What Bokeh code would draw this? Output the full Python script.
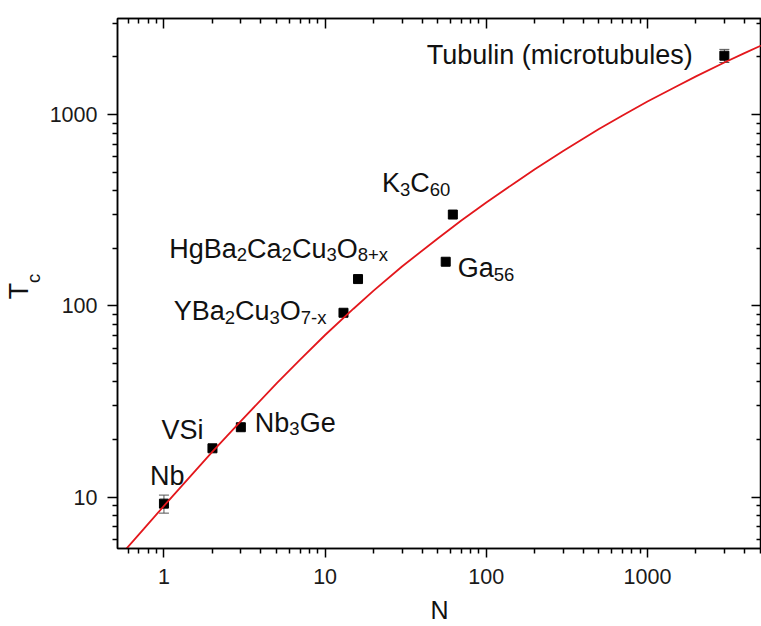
from bokeh.plotting import figure
from bokeh.models import (ColumnDataSource, FixedTicker, LogAxis, NumeralTickFormatter,
                          CustomJSTickFormatter, Whisker, TeeHead, Range1d)
from bokeh.embed import file_html
from bokeh.resources import INLINE
from bokeh.core.properties import value

# ---------------- data ----------------
materials = ["Nb", "VSi", "Nb3Ge", "YBa2Cu3O7-x", "HgBa2Ca2Cu3O8+x", "K3C60", "Ga56",
             "Tubulin (microtubules)"]
N_vals = [1, 2, 3, 13, 16, 62, 56, 3000]
Tc_vals = [9.25, 18, 23.2, 92, 138, 300, 170, 2030]
Tc_err = [1.0, 0, 0, 0, 0, 0, 0, 160]

# fitted curve
fit_N = [0.5, 0.75, 1, 1.5, 2, 3, 5, 7, 10, 15, 20, 30, 50, 70, 100, 150, 200, 300,
         500, 700, 1000, 1500, 2000, 3000, 4000, 5000, 6000]
fit_Tc = [4.63, 6.82, 9.0, 13.2, 17.3, 25.0, 39.3, 52.3, 70.4, 96.6, 120, 160.6, 225,
          279, 347, 439, 517, 644, 840, 989, 1170, 1398, 1583, 1870, 2095, 2280, 2430]

x_major = [1, 10, 100, 1000]
y_major = [10, 100, 1000]
x_title = "N"
y_title_main, y_title_sub = "T", "c"

# label text split into (piece, is_subscript)
label_parts = {
    "Nb": [("Nb", 0)],
    "VSi": [("VSi", 0)],
    "Nb3Ge": [("Nb", 0), ("3", 1), ("Ge", 0)],
    "YBa2Cu3O7-x": [("YBa", 0), ("2", 1), ("Cu", 0), ("3", 1), ("O", 0), ("7-x", 1)],
    "HgBa2Ca2Cu3O8+x": [("HgBa", 0), ("2", 1), ("Ca", 0), ("2", 1), ("Cu", 0), ("3", 1),
                        ("O", 0), ("8+x", 1)],
    "K3C60": [("K", 0), ("3", 1), ("C", 0), ("60", 1)],
    "Ga56": [("Ga", 0), ("56", 1)],
    "Tubulin (microtubules)": [("Tubulin (microtubules)", 0)],
}

# ---------------- style / layout ----------------
FONT = "Liberation Sans"
MAIN_FS = 27.0
SUB_FS = 18.5
SUB_DROP = 6.0
BASE_SHIFT = -8.5
NBSP = "\u00a0"
# (align, dx, dy) in pixels relative to the data point; dy = baseline, positive down
label_layout = {
    "Nb": ("left", -14, -19.5),
    "VSi": ("left", -51, -10),
    "Nb3Ge": ("left", 14, 4),
    "YBa2Cu3O7-x": ("right", -17, 7),
    "HgBa2Ca2Cu3O8+x": ("right", 30, -22),
    "K3C60": ("right", -2.5, -22.7),
    "Ga56": ("left", 12, 15),
    "Tubulin (microtubules)": ("right", -30.6, 7.8),
}

ADV = {'N': 722, 'b': 556, 'V': 667, 'S': 667, 'i': 222, 'G': 778, 'e': 556, 'Y': 667,
       'B': 667, 'a': 556, 'C': 722, 'u': 556, 'O': 778, 'x': 500, '-': 333, '+': 584,
       'H': 722, 'g': 556, 'K': 667, 'T': 611, 'l': 222, 'n': 556, ' ': 278, '(': 333,
       ')': 333, 'm': 833, 'c': 500, 'r': 333, 'o': 556, 't': 278, 's': 500}


def text_width(s, fs):
    return sum(ADV.get(ch, 556) for ch in s) * fs / 1000.0


X0, X1 = 0.515, 5100
Y0, Y1 = 5.39, 3176
x_minor = [k * 10.0 ** d for d in range(-1, 4) for k in range(2, 10)
           if X0 <= k * 10.0 ** d <= X1]
y_minor = [k * 10.0 ** d for d in range(0, 4) for k in range(2, 10)
           if Y0 <= k * 10.0 ** d <= Y1]

p = figure(width=761, height=626, x_axis_type="log", y_axis_type="log",
           x_range=Range1d(X0, X1), y_range=Range1d(Y0, Y1),
           output_backend="svg", toolbar_location=None,
           min_border_left=115, min_border_right=0, min_border_top=18,
           min_border_bottom=78)
p.grid.visible = False
p.outline_line_color = "black"
p.outline_line_width = 1.5
p.background_fill_color = "white"
p.border_fill_color = "white"

xt = FixedTicker(ticks=x_major, minor_ticks=x_minor)
yt = FixedTicker(ticks=y_major, minor_ticks=y_minor)

for ax, tick in ((p.xaxis[0], xt), (p.yaxis[0], yt)):
    ax.ticker = tick
    ax.formatter = NumeralTickFormatter(format="0")
    ax.axis_line_width = 1.5
    ax.axis_line_color = "black"
    ax.major_tick_line_width = 1.5
    ax.minor_tick_line_width = 1.5
    ax.major_tick_in = 0
    ax.minor_tick_in = 0
    ax.minor_tick_out = 5
    ax.major_label_text_font = FONT
    ax.major_label_text_font_size = "21.5px"
    ax.major_label_text_color = "#1a1a1a"
    ax.axis_label_text_font = FONT
    ax.axis_label_text_font_style = "normal"
    ax.axis_label_text_color = "#111111"

xa = p.xaxis[0]
xa.major_tick_out = 9
xa.major_label_standoff = 11
xa.axis_label = x_title
xa.axis_label_text_font_size = "25px"
xa.axis_label_standoff = 9

ya = p.yaxis[0]
ya.major_tick_out = 10
ya.major_label_standoff = 10
ya.axis_label = NBSP + NBSP + y_title_sub
ya.axis_label_text_font_size = "18.5px"
ya.axis_label_standoff = 3

# outer left axis carrying only the main part of the y title
t_axis = LogAxis(ticker=FixedTicker(ticks=[], minor_ticks=[]),
                 formatter=CustomJSTickFormatter(code="return ''"),
                 axis_line_color=None, major_tick_line_color=None,
                 minor_tick_line_color=None, major_tick_out=0, minor_tick_out=0,
                 major_tick_in=0, minor_tick_in=0, major_label_standoff=0,
                 major_label_text_font_size="0px",
                 axis_label=y_title_main + NBSP + NBSP, axis_label_text_font=FONT,
                 axis_label_text_font_size="27px", axis_label_text_font_style="normal",
                 axis_label_text_color="#111111", axis_label_standoff=-14)
p.add_layout(t_axis, "left")

for place, tick in (("above", xt), ("right", yt)):
    ax = LogAxis(ticker=tick, formatter=CustomJSTickFormatter(code="return ''"),
                 major_tick_in=10, major_tick_out=0, minor_tick_in=5, minor_tick_out=0,
                 major_label_standoff=0, major_label_text_font_size="0px",
                 axis_line_width=1.5, major_tick_line_width=1.5, minor_tick_line_width=1.5)
    p.add_layout(ax, place)

# error bars
eb = [(n, t, e) for n, t, e in zip(N_vals, Tc_vals, Tc_err) if e > 0]
err_src = ColumnDataSource(dict(base=[a for a, _, _ in eb],
                                upper=[t + e for _, t, e in eb],
                                lower=[t - e for _, t, e in eb]))
p.add_layout(Whisker(source=err_src, base="base", upper="upper", lower="lower",
                     dimension="height", line_color="#555555", line_width=1,
                     upper_head=TeeHead(size=10, line_color="#555555", line_width=1),
                     lower_head=TeeHead(size=10, line_color="#555555", line_width=1)))

p.scatter(N_vals, Tc_vals, marker="square", size=9, fill_color="black", line_color="black")
p.line(fit_N, fit_Tc, line_color="#e3171c", line_width=1.8)

# data labels, composed from pieces
main = dict(x=[], y=[], text=[], xo=[], yo=[])
sub = dict(x=[], y=[], text=[], xo=[], yo=[])
for name, xv, yv in zip(materials, N_vals, Tc_vals):
    parts = label_parts[name]
    align, dx, dy = label_layout[name]
    widths = [text_width(s, SUB_FS if is_sub else MAIN_FS) for s, is_sub in parts]
    total = sum(widths)
    cur = dx if align == "left" else dx - total
    for (s, is_sub), w in zip(parts, widths):
        d = sub if is_sub else main
        d["x"].append(xv)
        d["y"].append(yv)
        d["text"].append(s)
        d["xo"].append(cur)
        d["yo"].append(dy + BASE_SHIFT + (SUB_DROP if is_sub else 0))
        cur += w

p.text(x="x", y="y", text="text", x_offset="xo", y_offset="yo",
       source=ColumnDataSource(main), text_font=value(FONT), text_font_size="27px",
       text_align="left", text_baseline="alphabetic", text_color="#111111")
p.text(x="x", y="y", text="text", x_offset="xo", y_offset="yo",
       source=ColumnDataSource(sub), text_font=value(FONT), text_font_size="18.5px",
       text_align="left", text_baseline="alphabetic", text_color="#111111")

open("out.html", "w").write(file_html(p, INLINE))
